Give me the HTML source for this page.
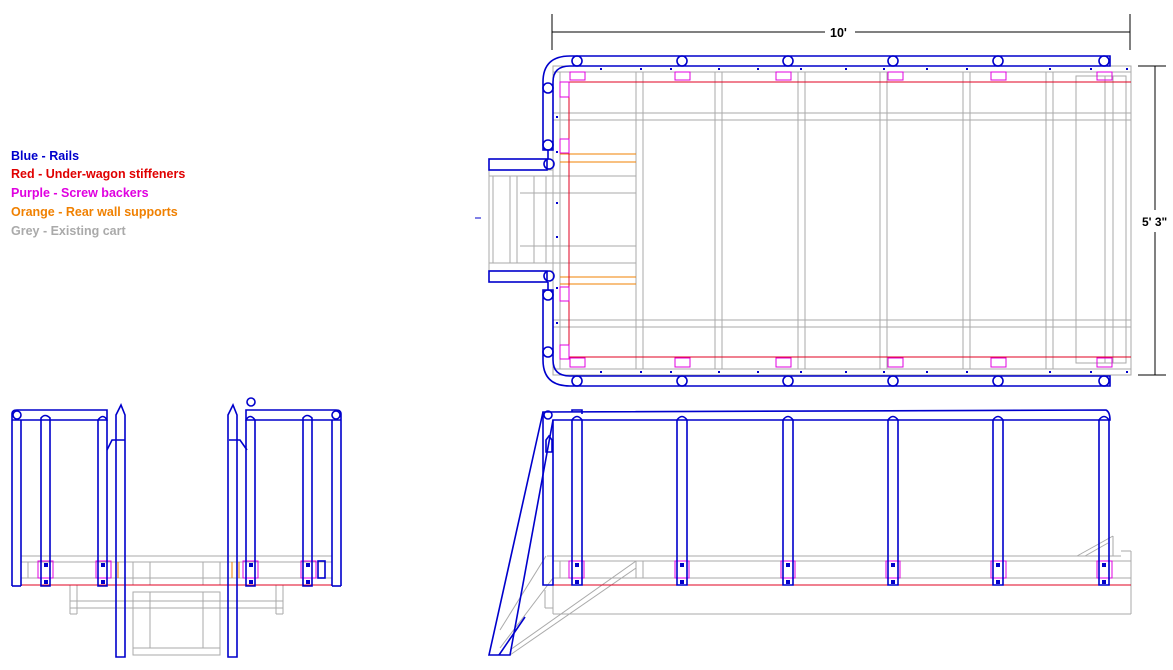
<!DOCTYPE html>
<html><head><meta charset="utf-8"><style>
html,body{margin:0;padding:0;background:#fff;}
svg{display:block;}
.t{font-family:"Liberation Sans",Arial,sans-serif;font-weight:bold;font-size:12.5px;}
</style></head><body>
<svg width="1173" height="670" viewBox="0 0 1173 670" xmlns="http://www.w3.org/2000/svg">
<!-- legend -->
<text class="t" x="11" y="160" fill="#0000cc">Blue - Rails</text>
<text class="t" x="11" y="178" fill="#e00000">Red - Under-wagon stiffeners</text>
<text class="t" x="11" y="197" fill="#e000e0">Purple - Screw backers</text>
<text class="t" x="11" y="216" fill="#f08000">Orange - Rear wall supports</text>
<text class="t" x="11" y="235" fill="#aaaaaa">Grey - Existing cart</text>

<!-- dimensions -->
<g stroke="#000" stroke-width="1" fill="none">
<line x1="552" y1="14" x2="552" y2="50"/><line x1="1130" y1="14" x2="1130" y2="50"/>
<line x1="552" y1="32" x2="825" y2="32"/><line x1="855" y1="32" x2="1130" y2="32"/>
<line x1="1138" y1="66" x2="1166" y2="66"/><line x1="1138" y1="375" x2="1166" y2="375"/>
<line x1="1155" y1="66" x2="1155" y2="210"/><line x1="1155" y1="232" x2="1155" y2="375"/>
<line x1="475" y1="218" x2="481" y2="218" stroke="#0000cc"/>
</g>
<text class="t" x="830" y="37" font-size="13">10'</text>
<text class="t" x="1142" y="226" style="font-size:12px">5' 3"</text>

<!-- TOP VIEW grey -->
<g stroke="#aaa" stroke-width="1" fill="none">
<rect x="553" y="66" width="578" height="309"/>
<line x1="553" y1="72" x2="1131" y2="72"/><line x1="553" y1="369" x2="1131" y2="369"/>
<line x1="560" y1="72" x2="560" y2="369"/>
<line x1="553" y1="113" x2="1131" y2="113"/><line x1="553" y1="120" x2="1131" y2="120"/>
<line x1="553" y1="320" x2="1131" y2="320"/><line x1="553" y1="327" x2="1131" y2="327"/>
<line x1="636" y1="72" x2="636" y2="369"/><line x1="643" y1="72" x2="643" y2="369"/>
<line x1="715" y1="72" x2="715" y2="369"/><line x1="722" y1="72" x2="722" y2="369"/>
<line x1="798" y1="72" x2="798" y2="369"/><line x1="805" y1="72" x2="805" y2="369"/>
<line x1="880" y1="72" x2="880" y2="369"/><line x1="887" y1="72" x2="887" y2="369"/>
<line x1="963" y1="72" x2="963" y2="369"/><line x1="970" y1="72" x2="970" y2="369"/>
<line x1="1046" y1="72" x2="1046" y2="369"/><line x1="1053" y1="72" x2="1053" y2="369"/>
<rect x="1076" y="76" width="50" height="287"/>
<line x1="1105" y1="76" x2="1105" y2="363"/><line x1="1113" y1="76" x2="1113" y2="363"/>
<!-- step area -->
<line x1="489" y1="170" x2="553" y2="170"/><line x1="489" y1="176" x2="636" y2="176"/>
<line x1="520" y1="193" x2="636" y2="193"/><line x1="520" y1="246" x2="636" y2="246"/>
<line x1="489" y1="263" x2="636" y2="263"/><line x1="489" y1="271" x2="553" y2="271"/>
<line x1="489" y1="170" x2="489" y2="271"/>
<line x1="493" y1="176" x2="493" y2="263"/><line x1="510" y1="176" x2="510" y2="263"/>
<line x1="517" y1="176" x2="517" y2="263"/><line x1="534" y1="176" x2="534" y2="263"/>
<line x1="546" y1="176" x2="546" y2="263"/>
</g>
<!-- orange -->
<g stroke="#f08000" stroke-width="1">
<line x1="560" y1="154" x2="636" y2="154"/><line x1="560" y1="162" x2="636" y2="162"/>
<line x1="560" y1="277" x2="636" y2="277"/><line x1="560" y1="284" x2="636" y2="284"/>
</g>
<!-- red -->
<g stroke="#e00020" stroke-width="1" fill="none">
<line x1="569" y1="82" x2="1131" y2="82"/><line x1="569" y1="357" x2="1131" y2="357"/>
<line x1="569" y1="82" x2="569" y2="357"/>
</g>
<!-- purple -->
<g stroke="#e000e0" stroke-width="1" fill="none">
<rect x="570" y="72" width="15" height="8"/><rect x="675" y="72" width="15" height="8"/>
<rect x="776" y="72" width="15" height="8"/><rect x="888" y="72" width="15" height="8"/>
<rect x="991" y="72" width="15" height="8"/><rect x="1097" y="72" width="15" height="8"/>
<rect x="570" y="358" width="15" height="9"/><rect x="675" y="358" width="15" height="9"/>
<rect x="776" y="358" width="15" height="9"/><rect x="888" y="358" width="15" height="9"/>
<rect x="991" y="358" width="15" height="9"/><rect x="1097" y="358" width="15" height="9"/>
<rect x="560" y="82" width="9" height="15"/><rect x="560" y="139" width="9" height="14"/>
<rect x="560" y="287" width="9" height="14"/><rect x="560" y="345" width="9" height="14"/>
</g>
<!-- blue rails top view -->
<g stroke="#0000cc" stroke-width="1.6" fill="none">
<path d="M570 56 L1110 56 L1110 66 L570 66"/>
<path d="M570 376 L1110 376 L1110 386 L570 386"/>
<path d="M570 56 Q543 56 543 82 L543 150 L553 150 L553 82 Q553 66 570 66"/>
<path d="M570 386 Q543 386 543 360 L543 290 L553 290 L553 360 Q553 376 570 376"/>
<rect x="489" y="159" width="58" height="11"/><rect x="489" y="271" width="58" height="11"/>
<circle cx="549" cy="164" r="5"/><circle cx="549" cy="276" r="5"/>
<line x1="548" y1="150" x2="548" y2="159"/><line x1="548" y1="282" x2="548" y2="290"/>
<g>
<circle cx="577" cy="61" r="5"/><circle cx="682" cy="61" r="5"/><circle cx="788" cy="61" r="5"/>
<circle cx="893" cy="61" r="5"/><circle cx="998" cy="61" r="5"/><circle cx="1104" cy="61" r="5"/>
<circle cx="577" cy="381" r="5"/><circle cx="682" cy="381" r="5"/><circle cx="788" cy="381" r="5"/>
<circle cx="893" cy="381" r="5"/><circle cx="998" cy="381" r="5"/><circle cx="1104" cy="381" r="5"/>
<circle cx="548" cy="88" r="5"/><circle cx="548" cy="145" r="5"/>
<circle cx="548" cy="295" r="5"/><circle cx="548" cy="352" r="5"/>
</g>
</g>
<g fill="#0000cc">
<rect x="600" y="68" width="2" height="2"/><rect x="640" y="68" width="2" height="2"/><rect x="670" y="68" width="2" height="2"/><rect x="718" y="68" width="2" height="2"/><rect x="757" y="68" width="2" height="2"/><rect x="800" y="68" width="2" height="2"/><rect x="845" y="68" width="2" height="2"/><rect x="883" y="68" width="2" height="2"/><rect x="926" y="68" width="2" height="2"/><rect x="966" y="68" width="2" height="2"/><rect x="1049" y="68" width="2" height="2"/><rect x="1090" y="68" width="2" height="2"/><rect x="1126" y="68" width="2" height="2"/>
<rect x="600" y="371" width="2" height="2"/><rect x="640" y="371" width="2" height="2"/><rect x="670" y="371" width="2" height="2"/><rect x="718" y="371" width="2" height="2"/><rect x="757" y="371" width="2" height="2"/><rect x="800" y="371" width="2" height="2"/><rect x="845" y="371" width="2" height="2"/><rect x="883" y="371" width="2" height="2"/><rect x="926" y="371" width="2" height="2"/><rect x="966" y="371" width="2" height="2"/><rect x="1049" y="371" width="2" height="2"/><rect x="1090" y="371" width="2" height="2"/><rect x="1126" y="371" width="2" height="2"/>
<rect x="556" y="116" width="2" height="2"/><rect x="556" y="151" width="2" height="2"/><rect x="556" y="202" width="2" height="2"/><rect x="556" y="236" width="2" height="2"/><rect x="556" y="287" width="2" height="2"/><rect x="556" y="322" width="2" height="2"/>
</g>

<!-- SIDE VIEW LEFT -->
<g stroke="#aaa" stroke-width="1" fill="none">
<line x1="21" y1="556" x2="332" y2="556"/><line x1="21" y1="562" x2="332" y2="562"/><line x1="21" y1="578" x2="332" y2="578"/>
<line x1="28" y1="562" x2="28" y2="578"/><line x1="133" y1="562" x2="133" y2="585"/><line x1="150" y1="562" x2="150" y2="585"/><line x1="203" y1="562" x2="203" y2="585"/><line x1="220" y1="562" x2="220" y2="585"/>
<rect x="70" y="585" width="213" height="16"/><line x1="70" y1="608" x2="283" y2="608"/>
<line x1="70" y1="601" x2="70" y2="614"/><line x1="77" y1="585" x2="77" y2="614"/><line x1="70" y1="614" x2="77" y2="614"/>
<line x1="283" y1="601" x2="283" y2="614"/><line x1="276" y1="585" x2="276" y2="614"/><line x1="276" y1="614" x2="283" y2="614"/>
<rect x="133" y="592" width="87" height="63"/><line x1="150" y1="592" x2="150" y2="648"/><line x1="203" y1="592" x2="203" y2="648"/><line x1="133" y1="648" x2="220" y2="648"/>
</g>
<line x1="21" y1="585" x2="332" y2="585" stroke="#e00020"/>
<line x1="118" y1="562" x2="118" y2="578" stroke="#f08000"/><line x1="232" y1="562" x2="232" y2="578" stroke="#f08000"/><line x1="239" y1="562" x2="239" y2="578" stroke="#f08000"/>
<g stroke="#e000e0" fill="none">
<rect x="38" y="561" width="15" height="17"/><rect x="96" y="561" width="15" height="17"/><rect x="243" y="561" width="15" height="17"/><rect x="301" y="561" width="15" height="17"/>
</g>
<g stroke="#0000cc" stroke-width="1.6" fill="none">
<path d="M12 586 L12 414 Q12 410 17 410 L107 410 L107 420 L12 420"/>
<line x1="21" y1="420" x2="21" y2="586"/><line x1="12" y1="586" x2="21" y2="586"/>
<path d="M41 586 L41 418 Q45 413 50 418 L50 586 Z"/>
<path d="M98 586 L98 420 Q103 413 107 420 L107 586 Z"/>
<path d="M116 657 L116 415 L121 405 L125 415 L125 657 Z"/>
<path d="M107 450 L112 440 L125 440"/>
<path d="M341 586 L341 414 Q341 410 336 410 L246 410 L246 420 L341 420"/>
<line x1="332" y1="420" x2="332" y2="586"/><line x1="332" y1="586" x2="341" y2="586"/>
<path d="M303 586 L303 418 Q307 413 312 418 L312 586 Z"/>
<path d="M246 586 L246 420 Q250 413 255 420 L255 586 Z"/>
<path d="M228 657 L228 415 L233 405 L237 415 L237 657 Z"/>
<path d="M247 450 L240 440 L229 440"/>
<circle cx="251" cy="402" r="4"/>
<circle cx="17" cy="415" r="4"/><circle cx="336" cy="415" r="4"/>
<rect x="318" y="561" width="7" height="17"/>
</g>
<g fill="#0000cc"><rect x="44" y="563" width="4" height="4"/><rect x="101" y="563" width="4" height="4"/><rect x="249" y="563" width="4" height="4"/><rect x="306" y="563" width="4" height="4"/>
<rect x="44" y="580" width="4" height="4"/><rect x="101" y="580" width="4" height="4"/><rect x="249" y="580" width="4" height="4"/><rect x="306" y="580" width="4" height="4"/></g>

<!-- SIDE VIEW RIGHT -->
<g stroke="#aaa" stroke-width="1" fill="none">
<line x1="547" y1="556" x2="1121" y2="556"/><line x1="553" y1="561" x2="1131" y2="561"/><line x1="553" y1="578" x2="1131" y2="578"/>
<line x1="1121" y1="551" x2="1131" y2="551"/><line x1="1131" y1="551" x2="1131" y2="614"/>
<line x1="553" y1="614" x2="1131" y2="614"/><line x1="553" y1="578" x2="553" y2="614"/>
<line x1="545" y1="590" x2="545" y2="608"/><line x1="545" y1="608" x2="553" y2="608"/>
<line x1="560" y1="561" x2="560" y2="578"/><line x1="636" y1="561" x2="636" y2="578"/><line x1="643" y1="561" x2="643" y2="578"/>
<line x1="636" y1="561" x2="510" y2="650"/><line x1="636" y1="568" x2="510" y2="655"/><line x1="553" y1="578" x2="500" y2="648"/>
<line x1="546" y1="556" x2="500" y2="630"/>
<line x1="1077" y1="556" x2="1113" y2="536"/><line x1="1113" y1="536" x2="1113" y2="556"/><line x1="1085" y1="556" x2="1108" y2="543"/>
</g>
<line x1="553" y1="585" x2="1131" y2="585" stroke="#e00020"/>
<g stroke="#e000e0" fill="none">
<rect x="569" y="561" width="15" height="17"/><rect x="675" y="561" width="14" height="17"/><rect x="781" y="561" width="14" height="17"/><rect x="886" y="561" width="14" height="17"/><rect x="991" y="561" width="15" height="17"/><rect x="1097" y="561" width="15" height="17"/>
</g>
<g stroke="#0000cc" stroke-width="1.6" fill="none">
<path d="M543 585 L543 412 L1106 410 Q1110 412 1110 420 L553 420 L553 585 Z"/>
<path d="M572 585 L572 420 Q577 413 582 420 L582 585 Z"/>
<path d="M677 585 L677 420 Q682 413 687 420 L687 585 Z"/>
<path d="M783 585 L783 420 Q788 413 793 420 L793 585 Z"/>
<path d="M888 585 L888 420 Q893 413 898 420 L898 585 Z"/>
<path d="M993 585 L993 420 Q998 413 1003 420 L1003 585 Z"/>
<path d="M1099 585 L1099 420 Q1104 413 1109 420 L1109 585 Z"/>
<circle cx="548" cy="415" r="4"/>
<path d="M543 412 L489 655 L510 655 L553 420"/>
<line x1="499" y1="655" x2="525" y2="617"/>
<path d="M546 452 L546 440 L549 436 L552 440 L552 452 Z"/>
<path d="M572 412 L572 410 L582 410 L582 414"/>
</g>
<g fill="#0000cc"><rect x="575" y="563" width="4" height="4"/><rect x="680" y="563" width="4" height="4"/><rect x="786" y="563" width="4" height="4"/><rect x="891" y="563" width="4" height="4"/><rect x="996" y="563" width="4" height="4"/><rect x="1102" y="563" width="4" height="4"/>
<rect x="575" y="580" width="4" height="4"/><rect x="680" y="580" width="4" height="4"/><rect x="786" y="580" width="4" height="4"/><rect x="891" y="580" width="4" height="4"/><rect x="996" y="580" width="4" height="4"/><rect x="1102" y="580" width="4" height="4"/></g>
</svg>
</body></html>
